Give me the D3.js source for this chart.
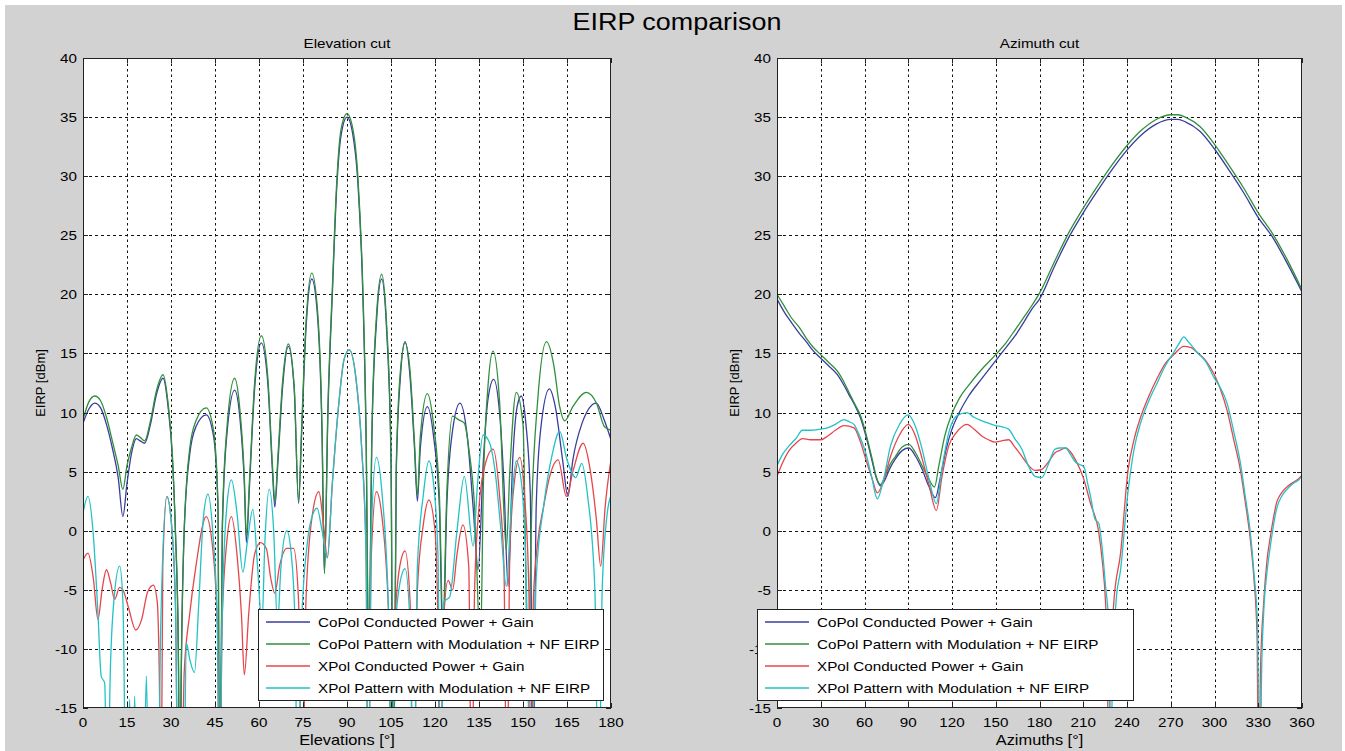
<!DOCTYPE html>
<html>
<head>
<meta charset="utf-8">
<script src="https://cdn.jsdelivr.net/npm/d3@7"></script>
<style>
  body { margin: 0; background: #fff; }
  text { font-family: "Liberation Sans", Arial, sans-serif; fill: #000; }
</style>
</head>
<body>
<div id="chart"></div>
<script>
// ---- data: [angle in degrees, EIRP in dBm] ----
const elevCoPolConducted = [[0,9.1],[2,10.3],[4,10.8],[6,10.4],[8,9],[10,7],[12,4.5],[13.6,1.2],[15,4],[16.5,6.5],[18.2,7.8],[19.5,7.6],[21,7.4],[23,9],[25,11.5],[27.3,12.9],[29,10.5],[30.5,6],[31.5,0],[32.5,-10],[33,-25],[33.5,-12],[34.5,0],[36.4,6.5],[38.5,8.8],[42,9.8],[44.5,8],[46,2],[46.6,-25],[47.5,0],[49,8],[51.7,11.9],[53.5,9.5],[55,4],[55.7,-1],[56.8,4],[58.5,12],[60.8,15.9],[63,12.5],[64.6,5],[65.4,2],[66.5,6],[68,12],[70,15.6],[72,12],[73.5,2.3],[74.5,8],[76,17],[78,21.3],[80,18],[81.5,8],[82.3,-3.6],[83.5,10],[85,20],[86.5,29],[88,33.5],[90,35],[92,33.5],[93.7,29.5],[95.4,20],[96.5,8],[97.4,-12],[98.5,8],[100,17.5],[101.8,21.3],[103.5,17],[105,6],[105.8,-25],[106.8,5],[108.2,13],[109.8,16],[111.5,13],[113,7],[114,2.5],[115,7],[117.4,10.5],[119.5,8],[121.5,2],[122.7,-10],[124,2],[126,8.5],[128.5,10.8],[131,8],[133,2],[134.7,-3.3],[136.5,6],[138,11],[140,12.8],[142,10],[143.5,4],[144.9,-4.7],[146.5,6],[148,10.5],[149.4,11.4],[151,9],[152.5,3],[153.4,-25],[154.5,2],[156,8.5],[159,12],[161,10.5],[163.5,6],[165.3,2.9],[167,6],[170,9],[175,10.8],[177.5,9.5],[180,7.7]];

const elevCoPolPattern = [[0,9.4],[2,10.9],[4,11.4],[6,11],[8,9.6],[10,7.6],[12,5.5],[13.6,3.5],[15,5.5],[16.5,7],[18.2,8.1],[19.5,7.9],[21,7.6],[23,9.3],[25,11.8],[27.3,13.2],[29,10.8],[30.5,6.3],[31.5,0],[32.5,-10],[33,-25],[33.5,-12],[34.5,0],[36.4,7],[38.5,9.3],[42,10.4],[44.5,8.5],[46,2.5],[46.6,-25],[47.5,0.5],[49,8.5],[51.7,12.9],[53.5,10.2],[55,4.5],[55.7,-0.5],[56.8,4.5],[58.5,12.5],[60.8,16.5],[63,13],[64.6,5.5],[65.4,2.5],[66.5,6.5],[68,12.5],[70,15.8],[72,12.2],[73.5,2.5],[74.5,8.5],[76,17.5],[78,21.8],[80,18.5],[81.5,8.5],[82.3,-3.6],[83.5,10.5],[85,20.5],[86.5,29.5],[88,34],[90,35.3],[92,34],[93.7,30],[95.4,20.5],[96.5,8.5],[97.4,-10],[98.5,8.5],[100,18],[101.8,21.7],[103.5,17.5],[105,6.5],[105.8,-25],[106.8,5.5],[108.2,13.5],[109.8,15.9],[111.5,13.5],[113,7.5],[114,3],[115,8],[117.4,11.6],[119.5,9],[121.5,3],[122.7,-8],[124,3],[126,9.7],[128,9.4],[130,9.1],[131.5,7],[133.5,2],[135.5,-10],[136.5,4],[138,12],[139.8,15.2],[142,11],[144.3,-1.6],[145.5,5],[147.7,11.7],[150,9],[151.7,-12],[153,2],[155,11],[158,16],[160.5,14],[162.5,10.5],[164.2,9.3],[167,10.5],[171.6,11.7],[175,10.8],[177.8,8.8],[180,8.5]];

const elevXPolConducted = [[0,-2.5],[1.7,-1.9],[3.5,-4],[5.1,-7.5],[6.5,-5],[8,-3.3],[9.5,-4.5],[10.8,-5.8],[12.5,-4.8],[13.6,-5],[15.5,-6.5],[18,-8.4],[20,-7.5],[22,-5.2],[24,-4.6],[25.3,-6],[26,-12],[26.6,-25],[27.2,-3],[28.6,2.9],[30,1],[31.5,-6],[32.5,-25],[33.5,-25],[34.5,-12],[36.4,-7],[38.5,-3],[42,1.2],[44,-1],[45.8,-8],[46.6,-25],[47.4,-8],[49,-1],[50.6,1.2],[52.5,-2],[54,-7],[55,-12.2],[56.5,-7],[58.5,-2],[60.5,-1],[62.5,-1.5],[64,-4],[65.4,-5.3],[67,-3],[69.5,-1.5],[71.8,-1.5],[73.5,-6],[74.7,-25],[76,-6],[78,1],[80.4,3.3],[82,0.5],[83.3,-2.3],[85,4],[87.3,11],[89,14.5],[90.8,15.3],[93,13],[95,7],[96.5,-2],[97.2,-25],[98.3,-2],[100,3.3],[102,1],[104.3,-8],[105.2,-25],[106.3,-8],[108,-3],[109.8,-1.7],[111.5,-6],[112.7,-25],[114,-5],[116,0.5],[117.9,2.6],[120,0],[121,-8],[121.8,-25],[122.8,-8],[124.5,-4.2],[126,-5],[127.5,-2],[129.5,0.5],[131.5,-3],[132.5,-25],[133.5,-5],[135,2],[137,5.5],[139.8,6.9],[142,3],[143.5,-3],[144.5,-25],[145.5,-2],[147,4],[148.9,6.2],[150.5,3],[152,-5],[152.8,-25],[153.5,-6],[155,-1],[157,2],[159,4.5],[162,6],[164.8,2.9],[167,5],[170.5,7.4],[173,5],[175,1],[176.5,-3],[178,2],[180,6]];

const elevXPolPattern = [[0,1.5],[1.7,2.9],[3.4,0],[5.1,-7],[6.2,-12.3],[7.4,-12.9],[8.3,-25],[9.3,-12],[10.5,-6],[12.5,-3],[13.6,-6],[14.8,-25],[15.9,-14.3],[16.8,-25],[17.6,-14],[18.6,-25],[20.5,-25],[21.6,-12.3],[22.6,-25],[25.5,-25],[26.5,-8],[28.6,2.9],[30,1],[31.5,-6],[32.5,-25],[34.3,-25],[35.2,-9.5],[36.5,-11],[38,-12],[39.5,-6],[41,1],[42.6,3.1],[44.2,0],[45.8,-8],[46.6,-25],[47.4,-8],[49,2],[50.6,4.3],[52.5,1.5],[54.5,-3.5],[56,-1],[57.9,1.8],[59.5,-3],[61,-8],[62,-1],[63.5,3.5],[65,0],[66.3,-8],[67.5,-3],[69.5,0],[71,-2],[72.3,-8],[73.2,-25],[74.5,-8],[76.5,-1],[78.5,1.5],[79.8,1.9],[81.5,0],[83.3,-2.3],[85,4],[87.3,11],[89,14.5],[90.8,15.3],[93,13],[95,7],[96.5,-2],[97.2,-25],[98.3,0],[100,6.2],[102,3],[104.3,-8],[105.2,-25],[106.3,-9],[108,-4.5],[109.8,-3.2],[111.5,-8],[112.7,-25],[114,-3],[116,3],[117.9,5.9],[119.5,4],[121,-2],[122,-25],[123,-6],[125,-5.6],[127.5,0],[130,4.6],[133,-1.3],[134.5,4],[136.4,8.1],[138.5,7.5],[140.5,5],[142.5,0],[144.3,-4.7],[146,2],[147.7,5.9],[149.5,4],[151,-3],[152.8,-25],[154.5,-4],[157,2],[160,6.5],[162.5,8.4],[165,6],[168,4.5],[170,5.7],[172,3],[174.5,-5],[175.8,-25],[177,-5],[178.5,1],[180,3]];

const aziCoPolConducted = [[0,19.6],[5,18.5],[10,17.6],[15.3,16.7],[20,16],[25,15.2],[30,14.6],[35,14],[41.4,13.2],[45,12.5],[49.4,11.5],[53,10.7],[57.4,9.5],[61,8],[65.4,5.8],[68,4.5],[71,3.8],[74,4.3],[77.5,5.3],[81.3,6.1],[86,6.8],[90.4,7],[95,6.3],[99.5,5.2],[104,3.8],[108.6,2.8],[112,4.5],[116,6.9],[120,8.6],[125,10],[131.4,11.4],[140,12.8],[150,14.4],[157,15.5],[163.3,16.5],[170,17.8],[175,18.8],[180,19.6],[190,22.3],[200,24.8],[210,26.9],[220,28.8],[230,30.6],[240,32.2],[250,33.5],[260,34.4],[270,34.8],[275,34.8],[280,34.6],[290,33.8],[300,32.3],[310,30.5],[320,28.6],[330,26.5],[340,24.8],[350,22.6],[360,20.2]];

const aziCoPolPattern = [[0,20],[5,19],[10,18],[15.3,17.2],[20,16.3],[25,15.5],[30,14.9],[35,14.3],[41.4,13.5],[45,12.8],[49.4,11.7],[53,10.8],[57.4,9.7],[61,8.2],[65.4,6],[68,4.6],[71,3.9],[74,4.6],[77.5,5.6],[81.3,6.3],[86,7.1],[90.4,7.3],[95,6.6],[99.5,5.5],[104,4.4],[108,3.7],[111,5.5],[115,8],[120,9.9],[125,11.2],[131.4,12.3],[140,13.6],[150,14.9],[157,15.9],[163.3,17],[170,18.2],[175,19.1],[180,20.1],[190,22.7],[200,25.2],[210,27.3],[220,29.2],[230,31],[240,32.6],[250,33.9],[260,34.8],[270,35.2],[275,35.2],[280,35],[290,34.2],[300,32.7],[310,30.9],[320,29],[330,26.9],[340,25.1],[350,22.9],[360,20.4]];

const aziXPolConducted = [[0,4.6],[4,5.8],[8.4,6.8],[13,7.4],[17.5,7.8],[23,7.7],[30,7.7],[34.6,8],[40,8.5],[46,8.9],[52.8,8.7],[57,7.6],[60.8,6.1],[65,4.5],[68.8,3.2],[73,4.2],[77.9,6.3],[84,8.1],[90,9],[95,8],[99.5,6.1],[104,4],[109.3,1.7],[113,4.5],[117.8,7.2],[123,8.3],[130.3,9],[135,8.6],[140.6,8],[145,7.7],[149.7,7.5],[154,7.6],[158.8,7.7],[163,7.1],[167.9,6.3],[172,5.6],[177,5.1],[181.6,5.2],[186,5.8],[190.7,6.6],[194,6.8],[197.9,7],[201,6.7],[204.7,6],[210,4.5],[215,2.3],[220.7,-0.2],[223,-2.5],[225.3,-6.1],[226.5,-10],[227.5,-25],[228.5,-12],[231,-6],[235.6,-1.9],[240.6,5],[245,7.8],[249.3,9.6],[255,11.4],[260.7,12.9],[266,14.1],[272.1,14.9],[279,15.6],[284,15.5],[288,15.1],[294,14.4],[299.5,13.3],[304,12],[308.6,10.2],[313,7.8],[317.8,5.1],[321,2.5],[324.6,-0.8],[327,-4],[329.2,-9],[330.2,-25],[331.5,-12],[333.7,-6.1],[336,-2.5],[338.3,-0.5],[342.9,2.5],[346,3.2],[349.7,3.7],[354,4.1],[357.7,4.4],[360,4.7]];

const aziXPolPattern = [[0,5.5],[4,6.5],[8.4,7.2],[13,7.8],[17.5,8.5],[23,8.5],[30,8.6],[34.6,8.7],[40,9],[46,9.4],[50,9.2],[52.8,9],[57,7.9],[60.8,6.6],[65,4.5],[68.8,2.7],[73,4.3],[77.9,7.2],[84,9],[90,9.8],[95,8.8],[99.5,6.9],[104,4.5],[109.3,2.3],[113,5.2],[117.8,8.3],[123,9.7],[130.3,10],[135,9.6],[140.6,9.3],[145,9.1],[149.7,8.9],[154,8.8],[158.8,8.6],[163,7.8],[167.9,6.9],[172,5.6],[177,4.6],[181.6,4.5],[186,5.6],[190.7,6.9],[194,7],[197.9,7],[201,6.5],[204.7,5.8],[207.5,5.6],[210.5,5.4],[213,4],[215,2.9],[218,1],[220.7,0.6],[223,-1.5],[225.3,-4.7],[227.5,-8],[228.8,-25],[230,-12],[232.5,-6],[235.6,-3.3],[240.6,3.2],[245,7],[249.3,9.1],[255,11],[260.7,12.5],[266,13.9],[272.1,15.1],[276,15.9],[279,16.4],[282,16],[288,15.1],[294,14.3],[299.5,13],[304,12.1],[308.6,10.8],[313,8.5],[317.8,5.7],[321,3],[324.6,-0.2],[327,-3.5],[329.5,-8],[331,-25],[332.3,-12],[333.7,-7],[336,-3.5],[338.3,-1.3],[342.9,2],[346,2.9],[349.7,3.5],[354,4],[357.7,4.3],[360,4.6]];

const seriesNames = [
  "CoPol Conducted Power + Gain",
  "CoPol Pattern with Modulation + NF EIRP",
  "XPol Conducted Power + Gain",
  "XPol Pattern with Modulation + NF EIRP"
];
const elevTicks = [0, 15, 30, 45, 60, 75, 90, 105, 120, 135, 150, 165, 180];
const aziTicks = [0, 30, 60, 90, 120, 150, 180, 210, 240, 270, 300, 330, 360];
const eirpTicks = [-15, -10, -5, 0, 5, 10, 15, 20, 25, 30, 35, 40];

// ---- styling ----
const colors = ["#3a3c9e", "#2f8f3a", "#e6464b", "#22c2c6"];
const width = 1345, height = 751;
const plotTop = 58, plotBottom = 708;
const SX = 1.17; // picture text is slightly stretched horizontally

const svg = d3.select("#chart").append("svg")
  .attr("width", width).attr("height", height);

svg.append("rect").attr("width", width).attr("height", height).attr("fill", "#fff");
svg.append("rect").attr("x", 5).attr("y", 5).attr("width", width - 8).attr("height", height - 5)
  .attr("fill", "#d2d2d2");

function label(g, x, y, str, size, anchor) {
  return g.append("text")
    .attr("transform", `translate(${x},${y}) scale(${SX},1)`)
    .attr("text-anchor", anchor || "middle")
    .style("font-size", size + "px")
    .text(str);
}

label(svg, 677, 30, "EIRP comparison", 23);

const panels = [
  { id: "elev", title: "Elevation cut", xlabel: "Elevations [°]", xmax: 180, xticks: elevTicks,
    left: 83, right: 611, series: [elevCoPolConducted, elevCoPolPattern, elevXPolConducted, elevXPolPattern],
    legend: { x: 258, y: 609, w: 345, h: 91 } },
  { id: "azi", title: "Azimuth cut", xlabel: "Azimuths [°]", xmax: 360, xticks: aziTicks,
    left: 777, right: 1302, series: [aziCoPolConducted, aziCoPolPattern, aziXPolConducted, aziXPolPattern],
    legend: { x: 757, y: 609, w: 376, h: 91 } }
];

panels.forEach(p => {
  const g = svg.append("g");
  const x = d3.scaleLinear().domain([0, p.xmax]).range([p.left, p.right]);
  const y = d3.scaleLinear().domain([-15, 40]).range([plotBottom, plotTop]);

  g.append("rect").attr("x", p.left).attr("y", plotTop)
    .attr("width", p.right - p.left).attr("height", plotBottom - plotTop).attr("fill", "#fff");

  // dotted grid
  g.append("g").selectAll("line").data(p.xticks.slice(1, -1)).join("line")
    .attr("x1", d => Math.round(x(d)) + 0.5).attr("x2", d => Math.round(x(d)) + 0.5)
    .attr("y1", plotTop).attr("y2", plotBottom)
    .attr("stroke", "#111").attr("stroke-dasharray", "2.5,3");
  g.append("g").selectAll("line").data(eirpTicks.slice(1, -1)).join("line")
    .attr("y1", d => Math.round(y(d)) + 0.5).attr("y2", d => Math.round(y(d)) + 0.5)
    .attr("x1", p.left).attr("x2", p.right)
    .attr("stroke", "#111").attr("stroke-dasharray", "3,3");

  // curves
  const clipId = "clip-" + p.id;
  g.append("clipPath").attr("id", clipId).append("rect")
    .attr("x", p.left).attr("y", plotTop).attr("width", p.right - p.left).attr("height", plotBottom - plotTop);
  const line = d3.line().x(d => x(d[0])).y(d => y(d[1])).curve(d3.curveMonotoneX);
  g.append("g").attr("clip-path", `url(#${clipId})`)
    .selectAll("path").data(p.series).join("path")
    .attr("d", d => line(d))
    .attr("fill", "none")
    .attr("stroke", (d, i) => colors[i])
    .attr("stroke-width", 1.3);

  // box + inward ticks on all sides
  g.append("rect").attr("x", p.left + 0.5).attr("y", plotTop + 0.5)
    .attr("width", p.right - p.left - 1).attr("height", plotBottom - plotTop - 1)
    .attr("fill", "none").attr("stroke", "#222");
  const tk = g.append("g").attr("stroke", "#222");
  p.xticks.forEach(t => {
    const xx = Math.round(x(t)) + 0.5;
    tk.append("line").attr("x1", xx).attr("x2", xx).attr("y1", plotBottom).attr("y2", plotBottom - 5);
    tk.append("line").attr("x1", xx).attr("x2", xx).attr("y1", plotTop).attr("y2", plotTop + 5);
    label(g, x(t), plotBottom + 19, t, 13);
  });
  eirpTicks.forEach(t => {
    const yy = Math.round(y(t)) + 0.5;
    tk.append("line").attr("y1", yy).attr("y2", yy).attr("x1", p.left).attr("x2", p.left + 5);
    tk.append("line").attr("y1", yy).attr("y2", yy).attr("x1", p.right).attr("x2", p.right - 5);
    label(g, p.left - 6, y(t) + 5, t, 13, "end");
  });

  // titles and axis labels
  label(g, (p.left + p.right) / 2, 48, p.title, 13);
  label(g, (p.left + p.right) / 2, 745, p.xlabel, 14);
  g.append("text")
    .attr("transform", `translate(${p.left - 38},${(plotTop + plotBottom) / 2}) rotate(-90)`)
    .attr("text-anchor", "middle").style("font-size", "13px")
    .text("EIRP [dBm]");

  // legend
  const L = p.legend;
  const lg = g.append("g");
  lg.append("rect").attr("x", L.x + 0.5).attr("y", L.y + 0.5).attr("width", L.w).attr("height", L.h)
    .attr("fill", "#fff").attr("stroke", "#222");
  seriesNames.forEach((name, i) => {
    const cy = L.y + 13 + i * 22;
    lg.append("line").attr("x1", L.x + 8).attr("x2", L.x + 52).attr("y1", cy).attr("y2", cy)
      .attr("stroke", colors[i]).attr("stroke-width", 1.3);
    label(lg, L.x + 60, cy + 5, name, 13, "start");
  });
});
</script>
</body>
</html>
